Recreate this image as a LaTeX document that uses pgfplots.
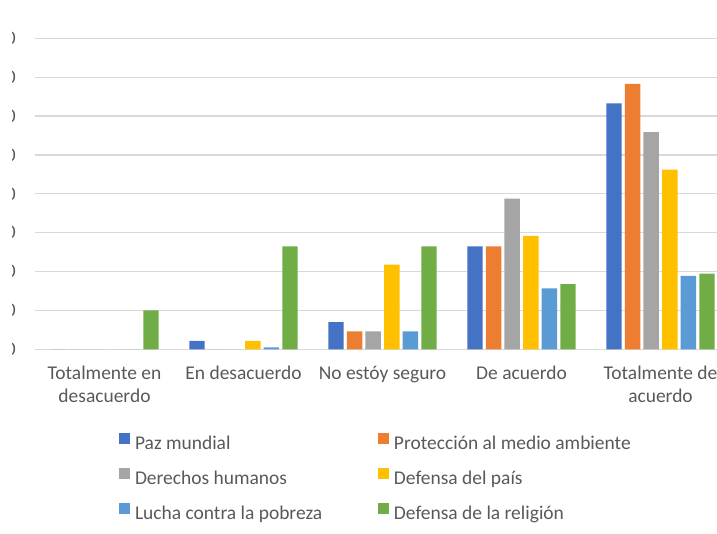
\documentclass[border=0pt]{standalone}
\usepackage{pgfplots}
\pgfplotsset{compat=1.18}
\usepackage{fontspec}
\setmainfont{Carlito}
\usetikzlibrary{calc}

\definecolor{txt}{HTML}{595959}
\definecolor{gridc}{HTML}{D9D9D9}
\definecolor{cPaz}{HTML}{4472C4}
\definecolor{cMedio}{HTML}{ED7D31}
\definecolor{cDer}{HTML}{A5A5A5}
\definecolor{cPais}{HTML}{FFC000}
\definecolor{cPobreza}{HTML}{5B9BD5}
\definecolor{cRelig}{HTML}{70AD47}

\begin{document}
\begin{tikzpicture}
\begin{axis}[
  scale only axis,
  width=521.25pt, height=233.25pt,
  xmin=-0.5, xmax=4.5,
  ymin=0, ymax=80,
  ybar=2.35pt, bar width=11.6pt,
  xtick={0,...,4},
  xticklabels={{Totalmente en\\desacuerdo},{En desacuerdo},{No estóy seguro},{De acuerdo},{Totalmente de\\acuerdo}},
  ytick={0,10,...,80},
  major tick length=0pt,
  ymajorgrids, grid style={gridc, line width=0.9pt},
  axis line style={draw=none},
  tick label style={font=\fontsize{14.6}{17}\selectfont, text=txt},
  xticklabel style={align=center, anchor=north, inner sep=0pt, yshift=-12.6pt},
  yticklabel style={anchor=east, inner sep=0pt, xshift=-14.25pt},
  /pgf/number format/assume math mode=true,
  legend columns=2,
  legend cell align=left,
  legend style={at={(0.1209,-0.2685)}, anchor=north west, draw=none, fill=none,
    inner sep=0pt, outer sep=0pt,
    font=\fontsize{14.6}{17}\selectfont, text=txt,
    row sep=10.55pt,
    nodes={inner sep=0pt, text height=10pt, text depth=3.4pt},
    /tikz/every odd column/.style={column sep=3.75pt},
    /tikz/every even column/.style={column sep=41.8pt}},
  legend image code/.code={\fill[#1, draw=none] (0pt,0.9pt) rectangle (8.25pt,9.15pt);},
]
% Porcentaje de respuestas por categoría
\addplot[fill=cPaz, draw=none]
  coordinates {(0,0) (1,2.2) (2,7.0) (3,26.5) (4,63.3)};
\addplot[fill=cMedio, draw=none]
  coordinates {(0,0) (1,0) (2,4.6) (3,26.5) (4,68.3)};
\addplot[fill=cDer, draw=none]
  coordinates {(0,0) (1,0) (2,4.6) (3,38.8) (4,55.9)};
\addplot[fill=cPais, draw=none]
  coordinates {(0,0) (1,2.2) (2,21.8) (3,29.2) (4,46.2)};
\addplot[fill=cPobreza, draw=none]
  coordinates {(0,0) (1,0.5) (2,4.6) (3,15.7) (4,18.9)};
\addplot[fill=cRelig, draw=none]
  coordinates {(0,10.0) (1,26.5) (2,26.5) (3,16.8) (4,19.5)};
\legend{Paz mundial, Protección al medio ambiente, Derechos humanos, Defensa del país, Lucha contra la pobreza, Defensa de la religión}
\end{axis}
% recorte del margen izquierdo de las etiquetas del eje y
\fill[white] ($(current axis.south west)+(-80pt,-20pt)$) rectangle ($(current axis.south west)+(-17.5pt,250pt)$);
\pgfresetboundingbox
\path[use as bounding box] ($(current axis.south west)+(-26.25pt,-138.5pt)$) rectangle ($(current axis.south west)+(511.5pt,262pt)$);
\end{tikzpicture}
\end{document}
